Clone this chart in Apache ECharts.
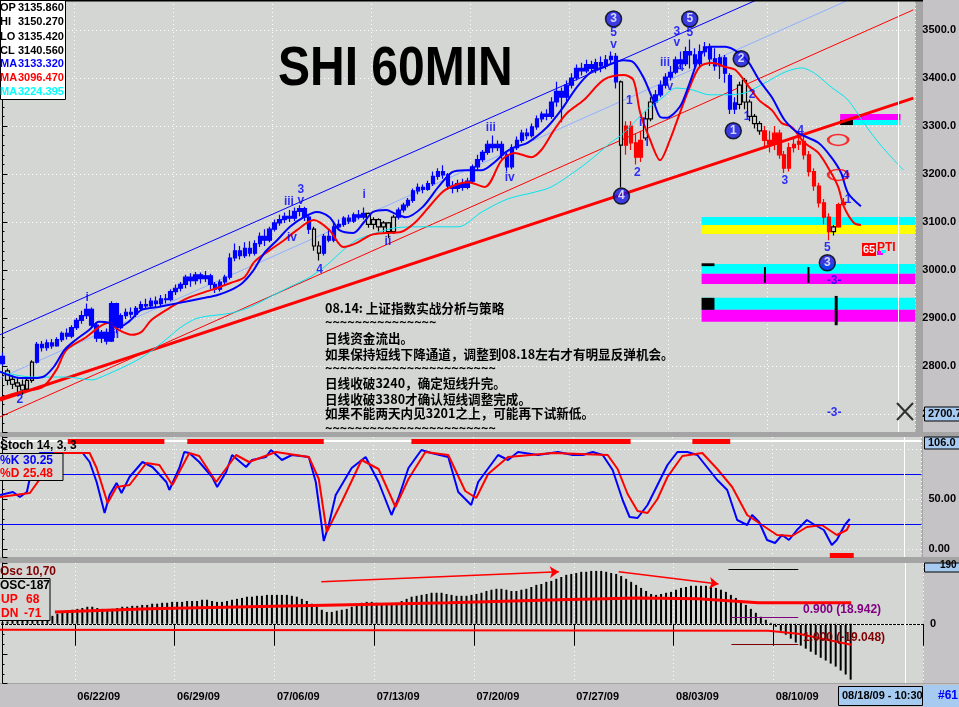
<!DOCTYPE html>
<html><head><meta charset="utf-8">
<script src="https://cdn.jsdelivr.net/npm/echarts@6/dist/echarts.min.js"></script>
<style>html,body{margin:0;padding:0;background:#a4a4a4;overflow:hidden}#c{width:959px;height:707px}</style>
</head><body><div id="c"></div>
<script>
// ---------------- DATA ----------------
const opens = [2805,2790,2772,2765,2760,2752,2770,2808,2845,2838,
2848,2842,2855,2868,2862,2880,2895,2905,2918,2885,
2858,2870,2852,2930,2880,2905,2912,2908,2920,2928,
2925,2935,2930,2940,2938,2955,2962,2970,2985,2978,
2990,2982,2988,2970,2960,2975,2985,3025,3040,3030,
3045,3035,3055,3070,3062,3085,3098,3105,3112,3108,
3122,3128,3110,3085,3050,3035,3070,3062,3090,3095,
3108,3102,3115,3110,3118,3095,3105,3090,3098,3080,
3110,3125,3135,3145,3165,3172,3168,3180,3195,3205,
3198,3175,3170,3180,3172,3185,3215,3230,3245,3262,
3255,3262,3240,3215,3255,3270,3285,3280,3298,3315,
3325,3320,3350,3372,3360,3385,3400,3420,3415,3428,
3420,3432,3425,3438,3445,3392,3260,3300,3265,3235,
3275,3315,3350,3365,3385,3402,3412,3438,3430,3455,
3448,3430,3455,3465,3440,3425,3442,3405,3335,3345,
3395,3350,3320,3305,3290,3270,3262,3285,3240,3212,
3255,3262,3268,3240,3205,3175,3140,3110,3080,3090,
3136];
const closes = [2820,2770,2762,2758,2750,2770,2808,2845,2838,2848,
2842,2855,2868,2862,2880,2895,2905,2918,2885,2858,
2870,2852,2930,2880,2905,2912,2908,2920,2928,2925,
2935,2930,2940,2938,2955,2962,2970,2985,2978,2990,
2982,2988,2970,2960,2975,2985,3025,3040,3030,3045,
3035,3055,3070,3062,3085,3098,3105,3112,3108,3122,
3128,3110,3085,3050,3035,3070,3062,3090,3095,3108,
3102,3115,3110,3118,3095,3105,3090,3098,3080,3110,
3125,3135,3145,3165,3172,3168,3180,3195,3205,3198,
3175,3170,3180,3172,3185,3215,3230,3245,3262,3255,
3262,3240,3215,3255,3270,3285,3280,3298,3315,3325,
3320,3350,3372,3360,3385,3400,3420,3415,3428,3420,
3432,3425,3438,3445,3392,3260,3300,3265,3235,3270,
3315,3350,3365,3385,3402,3412,3438,3430,3455,3448,
3430,3455,3465,3440,3425,3442,3410,3335,3348,3385,
3350,3320,3305,3290,3270,3262,3285,3240,3212,3255,
3262,3268,3240,3205,3175,3140,3110,3080,3090,3136,
3141];
const lows = [2800,2760,2752,2745,2740,2748,2765,2805,2830,2832,
2836,2840,2850,2855,2858,2875,2888,2898,2880,2850,
2848,2845,2850,2868,2876,2898,2900,2902,2915,2918,
2920,2922,2925,2930,2935,2948,2955,2962,2965,2970,
2972,2975,2960,2952,2955,2968,2980,3018,3022,3025,
3028,3030,3048,3050,3058,3080,3092,3098,3100,3102,
3112,3102,3075,3040,3020,3030,3058,3058,3085,3090,
3096,3098,3105,3105,3088,3085,3080,3078,3066,3075,
3105,3120,3130,3140,3158,3160,3165,3175,3188,3190,
3168,3160,3162,3165,3168,3180,3208,3225,3240,3245,
3248,3232,3205,3210,3250,3265,3272,3276,3292,3308,
3312,3315,3340,3308,3352,3378,3395,3405,3410,3412,
3410,3412,3418,3430,3378,3172,3240,3250,3220,3225,
3270,3310,3345,3360,3378,3395,3408,3418,3425,3420,
3418,3425,3445,3425,3415,3398,3390,3325,3325,3335,
3335,3310,3295,3282,3258,3245,3250,3232,3202,3205,
3245,3250,3230,3195,3165,3130,3095,3062,3072,3088,
3135];
const highs = [2828,2795,2780,2775,2772,2778,2812,2850,2852,2855,
2856,2860,2872,2878,2885,2900,2915,2930,2922,2890,
2875,2878,2935,2932,2910,2920,2922,2925,2935,2940,
2942,2945,2948,2950,2960,2970,2975,2990,2993,2996,
2995,2998,2992,2975,2980,2990,3035,3055,3050,3058,
3060,3062,3078,3085,3090,3105,3115,3120,3125,3130,
3135,3132,3115,3090,3060,3075,3085,3100,3105,3112,
3115,3120,3125,3130,3120,3110,3108,3102,3100,3115,
3130,3140,3150,3170,3180,3178,3186,3205,3212,3218,
3202,3185,3188,3190,3192,3220,3240,3250,3270,3280,
3270,3268,3245,3262,3278,3292,3295,3305,3322,3330,
3335,3360,3392,3380,3395,3410,3428,3432,3438,3436,
3440,3445,3448,3455,3452,3395,3310,3310,3285,3290,
3330,3360,3375,3395,3410,3425,3445,3455,3465,3480,
3462,3470,3475,3472,3462,3450,3448,3410,3360,3392,
3400,3355,3325,3310,3300,3290,3300,3292,3248,3265,
3275,3285,3280,3248,3212,3182,3148,3118,3094,3140,
3150];

const barCount = 185;
const categories = Array.from({length: barCount}, (_, i) => String(i));
const weekStarts = [15,35,55,75,95,115,135,155];
const weekLabels = ['06/22/09','06/29/09','07/06/09','07/13/09','07/20/09','07/27/09','08/03/09','08/10/09'];

// moving averages: [bar, price]
const maBlue = [[-0.5,2788],[3.5,2775],[6.5,2775],[8.5,2779],[10.5,2800],[12.5,2833],[14.5,2852],[17.5,2875],[19.5,2892],[21.5,2890],[23.5,2881],[25.5,2892],[28.1,2917],[31.5,2923],[35.5,2931],[40.9,2942],[43.5,2948],[46.1,2958],[48.5,2973],[50.5,2996],[52.9,3035],[55.5,3062],[58.1,3090],[60.9,3110],[63.5,3121],[66.1,3110],[68.1,3083],[70.9,3077],[73.1,3100],[74.9,3121],[77.5,3125],[79.5,3117],[81.5,3110],[84.9,3131],[88.1,3173],[90.9,3204],[93.5,3208],[96.9,3208],[99.5,3225],[101.5,3244],[103.5,3256],[106.1,3265],[110.1,3298],[112.9,3333],[116.1,3381],[118.9,3412],[121.5,3423],[125.5,3437],[127.5,3433],[129.5,3402],[131.5,3354],[132.9,3319],[134.1,3317],[136.9,3340],[138.9,3390],[140.9,3444],[142.9,3465],[146.1,3465],[148.9,3452],[150.9,3431],[152.9,3396],[155.5,3360],[158.1,3312],[160.9,3285],[164.9,3265],[167.5,3235],[169.5,3202],[170.9,3160],[173.5,3133]];
const maRed = [[-0.5,2733],[3.5,2746],[8.1,2756],[10.9,2792],[12.9,2833],[16.9,2860],[19.5,2881],[21.5,2890],[23.5,2875],[26.1,2865],[28.1,2871],[30.1,2896],[34.1,2923],[37.5,2942],[42.1,2958],[46.1,2973],[48.9,2985],[50.9,3017],[54.1,3042],[56.9,3062],[59.5,3083],[62.9,3104],[66.1,3083],[68.9,3048],[71.5,3056],[74.5,3073],[77.5,3077],[80.5,3079],[83.5,3100],[86.5,3135],[89.5,3167],[94.1,3183],[97.5,3173],[100.9,3229],[103.5,3244],[106.9,3235],[108.9,3250],[111.5,3292],[114.1,3327],[117.5,3354],[121.5,3396],[125.5,3406],[127.5,3396],[128.9,3327],[130.9,3271],[132.9,3229],[134.9,3271],[136.9,3327],[138.9,3381],[140.9,3423],[143.5,3431],[146.1,3423],[148.1,3417],[150.9,3381],[152.9,3354],[155.5,3333],[157.5,3306],[159.5,3298],[162.1,3265],[164.9,3244],[167.5,3202],[168.9,3173],[170.1,3131],[172.1,3098],[173.5,3094]];
const maCyan = [[-0.5,2788],[6.1,2777],[12.9,2777],[18.1,2771],[19.5,2775],[26.1,2806],[29.5,2827],[32.9,2854],[36.1,2881],[39.5,2900],[46.1,2910],[50.1,2923],[54.1,2944],[58.1,2965],[62.1,2985],[65.5,3010],[68.5,3038],[71.5,3062],[75.5,3077],[79.5,3088],[85.5,3090],[92.1,3090],[96.9,3121],[102.1,3148],[107.5,3162],[110.9,3173],[116.1,3208],[119.5,3235],[122.9,3265],[125.5,3285],[130.1,3333],[133.5,3360],[136.1,3379],[139.5,3375],[142.9,3365],[146.1,3365],[150.1,3369],[154.1,3390],[158.1,3412],[161.5,3421],[164.1,3410],[167.5,3381],[170.9,3354],[174.1,3306],[177.5,3260],[182.1,3208]];

// trend lines [bar, price]
const trendBlue = [[-0.5,2865],[152.3,3562]];
const trendLightBlue = [[-0.5,2775],[170.9,3562]];
const trendRedThin = [[-0.5,2694],[184.1,3542]];
const trendRedThick = [[-0.5,2729],[184.1,3358]];

// Elliott wave labels [text, bar, price]
const waveLabels = [['2',3.5,2729],['i',17.1,2942],['ii',22.9,2865],['3',60.3,3167],['v',60.3,3145],['iii',57.9,3142],['iv',58.5,3067],['4',64.1,3000],['i',73.1,3156],['ii',77.9,3060],['iii',98.7,3296],['iv',102.5,3192],['5',123.5,3494],['v',123.5,3469],['1',126.7,3352],['ii',129.3,3306],['i',130.3,3265],['2',128.3,3202],['iii',133.9,3431],['v',134.9,3381],['4',137.1,3421],['3',136.3,3496],['v',136.3,3473],['5',138.9,3494],['2',151.5,3365],['1',150.5,3319],['3',158.1,3187],['4',161.3,3290],['4',170.5,3196],['1',170.9,3146],['5',166.7,3046],['-3-',168.1,2977],['-3-',168.1,2702]];
const waveCircles = [['3',123.5,3523],['4',125.1,3154],['5',138.9,3523],['2',149.3,3440],['1',147.7,3290],['3',166.7,3015]];

// PTI zones [barFrom, barTo, priceLow, priceHigh, colorCode]
const ptiZones = [[169.3,181.5,3312.5,3325,1],[171.9,181.5,3302,3312.5,0],[169.3,171.9,3302,3312.5,3],
[141.3,184.5,3094,3110.5,0],[141.3,184.5,3075,3094,2],
[141.3,184.5,2992,3012.5,0],[141.3,184.5,2971,2992,1],[141.3,143.9,3008,3014,3],
[141.3,184.5,2917,2942,0],[141.3,184.5,2892,2917,1],[141.3,143.9,2917,2942,3],
[153.9,154.3,2973,3006,3],[162.7,163.1,2973,3006,3],[168.2,168.8,2885,2946,3]];
const ellipses = [[168.9,3271],[168.9,3198]];

// Stochastic 14,3,3 [bar, value]
const stochK = [[-0.5,54],[2.1,57],[3.5,52],[4.9,57],[5.5,71],[6.1,87],[7.5,96],[16.1,96],[17.5,87],[18.9,67],[20.5,36],[21.5,54],[22.9,66],[23.9,56],[25.5,72],[28.1,87],[30.1,82],[32.9,67],[33.5,59],[35.5,81],[36.5,97],[37.5,96],[39.5,87],[42.1,72],[43.1,62],[44.9,77],[46.1,94],[48.9,82],[50.1,89],[52.9,92],[53.9,99],[56.1,89],[58.1,94],[61.5,92],[62.9,67],[64.5,8],[65.5,24],[66.9,54],[70.1,81],[72.9,92],[75.5,67],[78.1,34],[79.5,51],[81.5,81],[84.1,99],[86.1,96],[89.5,92],[91.5,57],[94.1,44],[95.5,67],[99.5,94],[101.5,89],[103.5,97],[107.5,94],[111.5,97],[114.5,94],[116.5,94],[118.5,97],[120.5,94],[122.5,79],[124.5,49],[125.9,32],[127.5,31],[129.5,44],[131.5,64],[133.5,84],[135.5,97],[137.5,97],[139.5,94],[141.9,79],[143.5,69],[145.5,59],[147.5,29],[149.5,24],[150.5,34],[151.9,27],[153.5,9],[155.1,6],[156.5,14],[157.9,9],[159.5,19],[161.5,29],[163.1,24],[164.9,19],[166.5,4],[167.5,9],[169.1,24],[170.1,30]];
const stochD = [[-0.5,52],[5.5,56],[8.5,77],[10.5,96],[17.5,96],[18.9,81],[21.1,46],[22.9,62],[25.5,64],[28.9,86],[31.5,84],[34.1,64],[37.5,96],[39.5,93],[42.9,67],[46.9,94],[49.5,87],[54.9,97],[61.5,92],[63.5,70],[65.1,17],[68.1,47],[72.1,89],[75.5,80],[78.9,42],[81.5,70],[84.9,97],[89.5,94],[92.9,58],[95.1,51],[97.5,75],[101.5,92],[110.5,96],[121.5,94],[123.5,80],[125.5,55],[127.5,38],[129.5,36],[131.5,50],[133.5,72],[136.5,93],[140.5,96],[143.5,80],[146.5,62],[149.5,34],[152.5,24],[155.5,14],[158.5,13],[161.5,22],[164.5,24],[167.5,14],[169.5,19],[170.1,25]];
const stochHot = [[13.1,32.5],[37.1,64.5],[82.1,126.1],[138.5,146.1]];
const stochCold = [[166.1,170.9]];

// Oscillator 10,70 histogram per bar
const oscValues = [5,8,10,12,14,16,18,20,22,24,
26,33,39,43,46,49,52,56,56,52,
49,46,49,52,56,56,59,59,62,62,
66,66,69,69,72,72,72,75,75,75,
79,79,75,72,72,75,79,82,85,89,
89,92,92,95,95,95,95,95,92,89,
82,75,66,56,46,39,39,43,46,49,
56,62,69,72,72,69,66,66,66,69,
75,82,89,92,95,98,102,102,102,98,
95,92,92,92,95,98,102,108,112,115,
115,112,108,108,112,115,121,128,131,138,
141,148,154,161,164,167,171,171,174,174,
174,171,167,164,157,148,138,128,118,108,
98,95,98,102,105,112,118,121,125,125,
125,125,121,118,112,105,95,85,75,62,
49,36,23,13,3,-10,-23,-36,-49,-62,
-72,-82,-92,-102,-112,-121,-131,-141,-154,-167,
-184];
const oscSignalA = [[10.5,39],[29.5,49],[59.5,59],[89.5,69],[111.5,79],[127.5,85],[139.5,82],[151.5,69],[170.1,69]];
const oscSignalB = [[-0.5,-20],[153.5,-23],[159.5,-33],[170.1,-69]];
const oscArrows = [[[63.9,138],[111.5,171]],[[123.5,171],[143.5,131]]];
const oscFib = [[145.5,159.5,180],[146.1,159.5,20],[146.1,159.5,-69]];
const cursorBar = 181;

// ---------------- STYLE ----------------
const FONT = '"Liberation Sans", Arial, Helvetica, sans-serif';
const BG = '#d4d6d4', AXBG = '#c6c3c6', LBLUE = '#a6caf0';
const B = '#0000ff', K = '#000000', R = '#ff0000';
const colorRuns = [[0,0,B],[1,6,K],[7,62,B],[63,64,K],[65,73,B],[74,79,K],[80,124,B],[125,125,K],[126,129,R],[130,131,K],[132,148,B],[149,153,K],[154,167,R],[168,168,K],[169,170,R]];
const zoneColors = ['#00ffff','#ff00ff','#ffff00','#000000'];
function colorOf(i){for(const r of colorRuns){if(i>=r[0]&&i<=r[1])return r[2];}return K;}
const weekSet = new Set(weekStarts);

const candleData = opens.map((o,i)=>{const c=colorOf(i);const upFill=(c===K)?BG:c;
  return {value:[o,closes[i],lows[i],highs[i]],itemStyle:{color:upFill,color0:c,borderColor:c,borderColor0:c}};});

function T(x,y,text,color,size,extra){
  const st = Object.assign({text:text, fill:color, font:'bold '+size+'px '+FONT, align:'left', verticalAlign:'middle', textAlign:'left', textVerticalAlign:'middle'}, extra||{});
  return {type:'text', x:x, y:y, z:101, style:st};
}
function RC(x,y,w,h,fill,stroke,z){return {type:'rect', z:(z===undefined?100:z), shape:{x:x,y:y,width:w,height:h}, style:{fill:fill, stroke:stroke||null, lineWidth:1}};}

const catAxis = (g, extra) => Object.assign({gridIndex:g, type:'category', data:categories, boundaryGap:true,
  axisLine:{show:false}, axisTick:{show:false}, axisLabel:{show:false},
  splitLine:{show:true, interval:(i)=>weekSet.has(i), lineStyle:{color:'#ffffff', type:[1,3], width:1}}}, extra||{});
const valXAxis = (g) => ({gridIndex:g, type:'value', min:-0.5, max:barCount-0.5, show:false});
const axLabel = {fontFamily:FONT, fontWeight:'bold', fontSize:11, color:'#000', margin:7};

const cursorLine = {silent:true, symbol:'none', label:{show:false}, lineStyle:{color:'#ffffff', width:1, type:'solid'}, data:[{xAxis:cursorBar}]};

const chinese = [
 ['08.14: 上证指数实战分析与策略',308],
 ['~~~~~~~~~~~~~~~',322],
 ['日线资金流出。',338],
 ['如果保持短线下降通道，调整到08.18左右才有明显反弹机会。',354],
 ['~~~~~~~~~~~~~~~~~~~~~~~',368],
 ['日线收破3240，确定短线升完。',383],
 ['日线收破3380才确认短线调整完成。',399],
 ['如果不能两天内见3201之上，可能再下试新低。',413],
 ['~~~~~~~~~~~~~~~~~~~~~~~',428]
];
const CJK = '"Noto Sans CJK SC", "Liberation Sans", sans-serif';

const info = [['OP','3135.860','#000'],['HI','3150.270','#000'],['LO','3135.420','#000'],['CL','3140.560','#000'],['MA','3133.320','#0000ff'],['MA','3096.470','#ff0000'],['MA','3224.395','#00ffff']];
const infoY = [8,22,37,51,64,78,92];

const graphics = [
  RC(923,0,36,432,AXBG,null,-1), RC(923,437,36,120,AXBG,null,-1), RC(923,563,36,120,AXBG,null,-1),
  RC(0,684,959,23,AXBG,null,-1),
  RC(0,0,923,1.5,'#000',null,50),
  RC(0.5,0.5,65,99,'#ffffff','#000000',100),
  {type:'text', x:278, y:84, z:101, scaleY:1.17, originX:278, originY:84, style:{text:'SHI 60MIN', fill:'#000', font:'bold 48px '+FONT, align:'left', verticalAlign:'middle', textAlign:'left', textVerticalAlign:'middle'}},
  RC(924.5,407,36,14,LBLUE,'#000',100), T(928,414,'2700.7','#000',11),
  RC(924.5,437,36,12,LBLUE,'#000',100), T(928,443,'106.0','#000',11),
  RC(924.5,563,36,9,LBLUE,'#000',100), T(940,565,'190','#000',10),
  {type:'line', z:100, shape:{x1:897,y1:403,x2:913,y2:420}, style:{stroke:'#303030', lineWidth:2}},
  {type:'line', z:100, shape:{x1:913,y1:403,x2:897,y2:420}, style:{stroke:'#303030', lineWidth:2}},
  RC(862,243,14,13,'#ff0000',null,100), T(863,249.5,'65','#ffffff',11),
  T(877,248,'PTI','#ff0000',12),
  RC(877,251,6,4,'#ff00ff',null,100), RC(881,250,5,3,'#00ffff',null,100),
  T(0,446,'Stoch 14, 3, 3','#000',12),
  RC(-1,453.5,64,27,BG,'#000',100),
  T(0,461,'%K','#0000ff',12), T(23,461,'30.25','#0000ff',12),
  T(0,474,'%D','#ff0000',12), T(23,474,'25.48','#ff0000',12),
  T(0,572,'Osc 10,70','#800000',12),
  RC(-1,578.5,51,42,BG,'#000',100),
  T(0,586,'OSC-187','#000',12),
  T(1,600,'UP','#ff0000',12), T(26,600,'68','#ff0000',12),
  T(1,614,'DN','#ff0000',12), T(24,614,'-71','#ff0000',12),
  T(803,610,'0.900 (18.942)','#800080',12),
  T(803,638,'1.000 (-19.048)','#800000',12),
  RC(838.5,686.5,84,19,LBLUE,'#000',100), T(842,696,'08/18/09 - 10:30','#000',11),
  RC(924,685,35,22,LBLUE,null,100), T(938,696,'#61','#0000ff',12)
];
info.forEach((r,k)=>{graphics.push(T(0,infoY[k],r[0],r[2],11)); graphics.push(T(18,infoY[k],r[1],r[2],11));});
chinese.forEach(c => graphics.push({type:'text', x:325, y:c[1], z:101, style:{text:c[0], fill:'#000', font:'bold 12.6px '+CJK, align:'left', verticalAlign:'middle', textAlign:'left', textVerticalAlign:'middle'}}));

const series = [
  {type:'custom', xAxisIndex:1, yAxisIndex:0, z:1, silent:true,
   renderItem:(p,api)=>{const a=api.coord([api.value(0),api.value(3)]);const b=api.coord([api.value(1),api.value(2)]);
     return {type:'rect', shape:{x:a[0],y:a[1],width:b[0]-a[0],height:b[1]-a[1]}, style:{fill:zoneColors[api.value(4)]}};},
   encode:{x:[0,1], y:[2,3]}, data:ptiZones},
  {type:'line', xAxisIndex:1, yAxisIndex:0, z:2, data:trendLightBlue, showSymbol:false, lineStyle:{color:'#8fb0ff', width:1}, markLine:cursorLine},
  {type:'line', xAxisIndex:1, yAxisIndex:0, z:2, data:trendBlue, showSymbol:false, lineStyle:{color:'#0000ff', width:1}},
  {type:'line', xAxisIndex:1, yAxisIndex:0, z:2, data:trendRedThin, showSymbol:false, lineStyle:{color:'#ff0000', width:1}},
  {type:'line', xAxisIndex:1, yAxisIndex:0, z:2, data:trendRedThick, showSymbol:false, lineStyle:{color:'#ff0000', width:3}},
  {type:'candlestick', xAxisIndex:0, yAxisIndex:0, z:3, barWidth:4, data:candleData, itemStyle:{borderWidth:1.2}},
  {type:'line', xAxisIndex:1, yAxisIndex:0, z:4, data:maCyan, smooth:0.3, showSymbol:false, lineStyle:{color:'#00e5ee', width:1}},
  {type:'line', xAxisIndex:1, yAxisIndex:0, z:4, data:maRed, smooth:0.3, showSymbol:false, lineStyle:{color:'#ff0000', width:2}},
  {type:'line', xAxisIndex:1, yAxisIndex:0, z:4, data:maBlue, smooth:0.3, showSymbol:false, lineStyle:{color:'#0000ff', width:2}},
  {type:'scatter', xAxisIndex:1, yAxisIndex:0, z:5, symbol:'circle', symbolSize:[20,11], data:ellipses,
   itemStyle:{color:'rgba(0,0,0,0)', borderColor:'#ff0000', borderWidth:2}},
  {type:'scatter', xAxisIndex:1, yAxisIndex:0, z:6, symbolSize:1, itemStyle:{color:'rgba(0,0,0,0)'},
   data:waveLabels.map(w=>({name:w[0], value:[w[1],w[2]]})),
   label:{show:true, position:'inside', formatter:'{b}', color:'#0000ff', fontFamily:FONT, fontWeight:'bold', fontSize:12}},
  {type:'scatter', xAxisIndex:1, yAxisIndex:0, z:6, symbol:'circle', symbolSize:16,
   itemStyle:{color:'#1414e6', borderColor:'#000', borderWidth:1.5},
   data:waveCircles.map(w=>({name:w[0], value:[w[1],w[2]]})),
   label:{show:true, position:'inside', formatter:'{b}', color:'#ffffff', fontFamily:FONT, fontWeight:'bold', fontSize:12}},
  {type:'line', xAxisIndex:3, yAxisIndex:1, z:3, data:stochK, showSymbol:false, lineStyle:{color:'#0000ff', width:2},
   markLine:{silent:true, symbol:'none', label:{show:false}, data:[
     {yAxis:25, lineStyle:{color:'#0000ff', width:1, type:'solid'}},
     {yAxis:75, lineStyle:{color:'#0000ff', width:1, type:'solid'}},
     {yAxis:108, lineStyle:{color:'#ffffff', width:2, type:'solid'}},
     {xAxis:cursorBar, lineStyle:{color:'#ffffff', width:1, type:'solid'}}
   ]}},
  {type:'line', xAxisIndex:3, yAxisIndex:1, z:4, data:stochD, showSymbol:false, lineStyle:{color:'#ff0000', width:2},
   markLine:{silent:true, symbol:'none', label:{show:false}, lineStyle:{color:'#ff0000', width:5, type:'solid'},
     data: stochHot.map(s=>[{coord:[s[0],108]},{coord:[s[1],108]}]).concat(stochCold.map(s=>[{coord:[s[0],-6]},{coord:[s[1],-6]}]))}},
  {type:'bar', xAxisIndex:4, yAxisIndex:2, z:3, barWidth:2, data:oscValues, itemStyle:{color:'#000'}},
  {type:'line', xAxisIndex:5, yAxisIndex:2, z:4, data:oscSignalA, showSymbol:false, lineStyle:{color:'#ff0000', width:3},
   markLine:{silent:true, symbol:'none', label:{show:false}, data:[
     {yAxis:0, lineStyle:{color:'#ffffff', width:1, type:[1,3]}},
     {xAxis:cursorBar, lineStyle:{color:'#ffffff', width:1, type:'solid'}},
     [{coord:[oscFib[0][0],oscFib[0][2]], lineStyle:{color:'#000000', width:1, type:'solid'}},{coord:[oscFib[0][1],oscFib[0][2]]}],
     [{coord:[oscFib[1][0],oscFib[1][2]], lineStyle:{color:'#800080', width:1, type:'solid'}},{coord:[oscFib[1][1],oscFib[1][2]]}],
     [{coord:[oscFib[2][0],oscFib[2][2]], lineStyle:{color:'#800000', width:1, type:'solid'}},{coord:[oscFib[2][1],oscFib[2][2]]}]
   ]}},
  {type:'line', xAxisIndex:5, yAxisIndex:2, z:4, data:oscSignalB, showSymbol:false, lineStyle:{color:'#ff0000', width:2},
   markLine:{silent:true, symbol:['none','arrow'], symbolSize:9, label:{show:false}, lineStyle:{color:'#ff0000', width:1.5, type:'solid'},
     data: oscArrows.map(a=>[{coord:a[0]},{coord:a[1]}])}}
];

const option = {
  animation:false,
  backgroundColor:'#a4a4a4',
  textStyle:{fontFamily:FONT},
  grid:[
    {left:0, right:36, top:0, height:432, show:true, backgroundColor:BG, borderWidth:0},
    {left:0, right:36, top:437, height:120, show:true, backgroundColor:BG, borderWidth:0},
    {left:0, right:36, top:563, height:120, show:true, backgroundColor:BG, borderWidth:0}
  ],
  xAxis:[
    catAxis(0), valXAxis(0),
    catAxis(1), valXAxis(1),
    catAxis(2, {axisLine:{show:true, lineStyle:{color:'#000', width:1}},
      axisTick:{show:true, interval:(i)=>weekSet.has(i), length:22, lineStyle:{color:'#000', width:1}},
      axisLabel:{show:true, interval:(i)=>weekSet.has(i), align:'left', margin:8, fontFamily:FONT, fontWeight:'bold', fontSize:11, color:'#000',
        formatter:(v)=>{const k=weekStarts.indexOf(Number(v)); return k>=0?weekLabels[k]:'';}}}),
    valXAxis(2)
  ],
  yAxis:[
    {gridIndex:0, type:'value', position:'right', min:2662.5, max:3562.5, splitNumber:9,
     axisLine:{show:true, lineStyle:{color:'#000', width:1}}, axisTick:{show:true, length:5, lineStyle:{color:'#000'}},
     minorTick:{show:true, splitNumber:5, length:2, lineStyle:{color:'#000'}},
     axisLabel:Object.assign({showMinLabel:false, showMaxLabel:false, formatter:(v)=>v.toFixed(1)}, axLabel),
     splitLine:{show:true, showMinLine:false, showMaxLine:false, lineStyle:{color:'#ffffff', type:[1,3], width:1}}},
    {gridIndex:1, type:'value', position:'right', min:-8, max:112, splitNumber:2,
     axisLine:{show:true, lineStyle:{color:'#000', width:1}}, axisTick:{show:true, length:5, lineStyle:{color:'#000'}},
     minorTick:{show:true, splitNumber:5, length:2, lineStyle:{color:'#000'}},
     axisLabel:Object.assign({showMinLabel:false, showMaxLabel:false, formatter:(v)=>v===100?'':v.toFixed(2)}, axLabel),
     splitLine:{show:true, showMinLine:false, showMaxLine:false, lineStyle:{color:'#ffffff', type:[1,3], width:1}}},
    {gridIndex:2, type:'value', position:'right', min:-195, max:200, splitNumber:4,
     axisLine:{show:true, lineStyle:{color:'#000', width:1}}, axisTick:{show:true, length:5, lineStyle:{color:'#000'}},
     minorTick:{show:true, splitNumber:3, length:2, lineStyle:{color:'#000'}},
     axisLabel:Object.assign({showMinLabel:false, showMaxLabel:false, formatter:(v)=>v===0?'0':''}, axLabel),
     splitLine:{show:false}}
  ],
  graphic:{elements:graphics},
  series:series
};
const chart = echarts.init(document.getElementById('c'), null, {renderer:'canvas'});
chart.setOption(option);
</script></body></html>
